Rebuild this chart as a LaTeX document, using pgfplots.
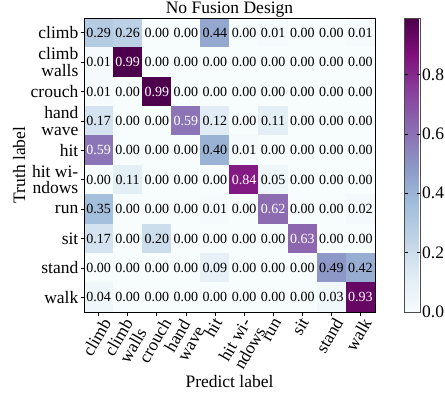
\documentclass[border=0pt]{standalone}
\usepackage{fontspec}
\setmainfont{Liberation Serif}
\usepackage{pgfplots}
\pgfplotsset{compat=1.18}
\usepackage{pgfplotstable}
\newcommand{\lblfont}{\fontsize{17.5bp}{16.5bp}\selectfont}
\newcommand{\cellfont}{\fontsize{14bp}{16bp}\selectfont}
\newcommand{\rl}[1]{\rotatebox{60}{\renewcommand{\arraystretch}{0.95}\begin{tabular}{@{}c@{}}#1\end{tabular}}}
\newcommand{\celltext}{%
  \pgfmathfloatparsenumber{\pgfplotspointmeta}\let\cva\pgfmathresult
  \pgfmathfloatparsenumber{0.5}\let\cvb\pgfmathresult
  \pgfmathfloatlessthan{\cvb}{\cva}%
  \ifpgfmathfloatcomparison\color{white}\fi
  \pgfmathprintnumber[fixed,fixed zerofill,precision=2,assume math mode=true]{\pgfplotspointmeta}}
\pgfplotstableread{
x y c
0 0 0.29
1 0 0.26
2 0 0.00
3 0 0.00
4 0 0.44
5 0 0.00
6 0 0.01
7 0 0.00
8 0 0.00
9 0 0.01
0 1 0.01
1 1 0.99
2 1 0.00
3 1 0.00
4 1 0.00
5 1 0.00
6 1 0.00
7 1 0.00
8 1 0.00
9 1 0.00
0 2 0.01
1 2 0.00
2 2 0.99
3 2 0.00
4 2 0.00
5 2 0.00
6 2 0.00
7 2 0.00
8 2 0.00
9 2 0.00
0 3 0.17
1 3 0.00
2 3 0.00
3 3 0.59
4 3 0.12
5 3 0.00
6 3 0.11
7 3 0.00
8 3 0.00
9 3 0.00
0 4 0.59
1 4 0.00
2 4 0.00
3 4 0.00
4 4 0.40
5 4 0.01
6 4 0.00
7 4 0.00
8 4 0.00
9 4 0.00
0 5 0.00
1 5 0.11
2 5 0.00
3 5 0.00
4 5 0.00
5 5 0.84
6 5 0.05
7 5 0.00
8 5 0.00
9 5 0.00
0 6 0.35
1 6 0.00
2 6 0.00
3 6 0.00
4 6 0.01
5 6 0.00
6 6 0.62
7 6 0.00
8 6 0.00
9 6 0.02
0 7 0.17
1 7 0.00
2 7 0.20
3 7 0.00
4 7 0.00
5 7 0.00
6 7 0.00
7 7 0.63
8 7 0.00
9 7 0.00
0 8 0.00
1 8 0.00
2 8 0.00
3 8 0.00
4 8 0.09
5 8 0.00
6 8 0.00
7 8 0.00
8 8 0.49
9 8 0.42
0 9 0.04
1 9 0.00
2 9 0.00
3 9 0.00
4 9 0.00
5 9 0.00
6 9 0.00
7 9 0.00
8 9 0.03
9 9 0.93
}\cm
\begin{document}
\begin{tikzpicture}
\begin{axis}[
  name=ax,
  scale only axis,
  width=291bp, height=294bp,
  xmin=-0.5, xmax=9.5, ymin=-0.5, ymax=9.5,
  y dir=reverse,
  axis on top,
  /pgf/number format/assume math mode=true,
  colormap={bupu}{rgb255=(247,252,253) rgb255=(224,236,244) rgb255=(191,211,230) rgb255=(158,188,218) rgb255=(140,150,198) rgb255=(140,107,177) rgb255=(136,65,157) rgb255=(129,15,124) rgb255=(77,0,75)},
  point meta min=0, point meta max=0.99,
  xtick={0,...,9}, ytick={0,...,9},
  xticklabels={\rl{climb},\rl{climb\\walls},\rl{crouch},\rl{hand\\wave},\rl{hit},\rl{hit wi-\\ndows},\rl{run},\rl{sit},\rl{stand},\rl{walk}},
  yticklabels={climb,{climb\\walls},crouch,{hand\\wave},hit,{hit wi-\\ndows},run,sit,stand,walk},
  xtick pos=bottom, ytick pos=left,
  tick align=outside,
  major tick length=3.5bp,
  tick style={black, line width=0.6pt},
  axis line style={black, line width=0.8pt},
  xticklabel style={font=\lblfont, anchor=north, inner sep=1pt},
  yticklabel style={font=\lblfont, align=right, inner sep=2pt},
  title={No Fusion Design},
  title style={font=\lblfont, yshift=-9bp},
  xlabel={Predict label},
  xlabel style={yshift=3bp},
  ylabel={Truth label},
  label style={font=\lblfont},
  colorbar,
  colorbar style={
    at={(parent axis.north east)}, anchor=north west, xshift=21bp,
    width=16bp, height=294bp, scale only axis,
    ytick={0,0.2,0.4,0.6,0.8},
    yticklabel style={font=\lblfont, inner sep=1.5pt, /pgf/number format/.cd, fixed, fixed zerofill, precision=1, assume math mode=true},
    axis line style={black!70, line width=0.8pt},
    tick style={black, line width=0.6pt},
    major tick length=3.5bp,
  },
]
\addplot[matrix plot*, mesh/cols=10, mesh/rows=10, point meta=explicit] table[x=x, y=y, meta=c]{\cm};
\addplot[only marks, mark=none, point meta=explicit,
  nodes near coords={\celltext},
  nodes near coords align=center,
  every node near coord/.append style={font=\cellfont, inner sep=0pt, anchor=center}]
  table[x=x, y=y, meta=c]{\cm};
\coordinate (BL) at (axis cs:-0.5,9.5);
\coordinate (TR) at (axis cs:9.5,-0.5);
\end{axis}
\pgfresetboundingbox
\path[use as bounding box] ([shift={(-84bp,-82bp)}]BL) rectangle ([shift={(70bp,18bp)}]TR);
\end{tikzpicture}
\end{document}
